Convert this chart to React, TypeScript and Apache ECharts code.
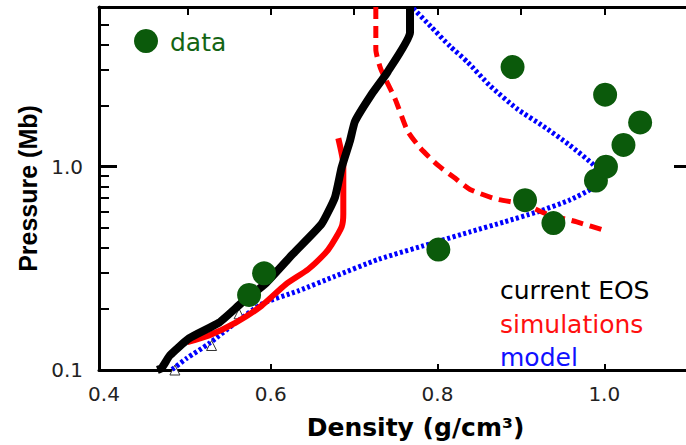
import React, { useEffect, useRef } from "react";
import * as echarts from "echarts";

// current EOS (black solid)
const eosX = [0.464, 0.469, 0.479, 0.502, 0.538, 0.565, 0.594, 0.627, 0.661, 0.677, 0.685, 0.695, 0.701, 0.720, 0.740, 0.767, 0.767];
const eosY = [0.1, 0.102, 0.118, 0.143, 0.171, 0.214, 0.267, 0.374, 0.523, 0.707, 0.99, 1.34, 1.67, 2.24, 2.92, 4.57, 6.1];

// simulations (red solid part)
const simSolidX = [0.500, 0.526, 0.558, 0.589, 0.618, 0.645, 0.665, 0.673, 0.685, 0.687, 0.687, 0.681];
const simSolidY = [0.137, 0.148, 0.171, 0.207, 0.264, 0.313, 0.374, 0.414, 0.506, 0.585, 1.02, 1.38];

// simulations (red dashed part)
const simDashX = [0.726, 0.726, 0.732, 0.749, 0.764, 0.779, 0.800, 0.820, 0.839, 0.871, 0.904, 0.931, 0.967, 1.002];
const simDashY = [6.1, 3.78, 3.02, 2.16, 1.50, 1.24, 1.02, 0.884, 0.773, 0.692, 0.654, 0.585, 0.535, 0.483];

// model (blue dotted)
const modelX = [0.771, 0.792, 0.815, 0.836, 0.863, 0.895, 0.927, 0.958, 0.987, 0.995, 0.987, 0.958, 0.919, 0.880, 0.839, 0.800, 0.729, 0.677, 0.633, 0.589, 0.558, 0.526, 0.499, 0.481];
const modelY = [6.0, 4.89, 3.91, 3.27, 2.50, 1.93, 1.58, 1.28, 1.02, 0.904, 0.791, 0.684, 0.598, 0.535, 0.478, 0.428, 0.350, 0.289, 0.245, 0.211, 0.171, 0.135, 0.114, 0.1];

// data (green points)
const dataX = [0.574, 0.592, 0.801, 0.905, 0.939, 0.990, 1.002, 1.023, 1.043, 1.001, 0.890];
const dataY = [0.234, 0.299, 0.391, 0.684, 0.528, 0.855, 1.0, 1.28, 1.65, 2.26, 3.09];

// small open triangles
const triX = [0.485, 0.529, 0.562];
const triY = [0.1, 0.132, 0.189];

// axis ticks / labels
const xLabels = [0.4, 0.6, 0.8, 1.0];
const xBottomTicks = [0.6, 0.8, 1.0];
const xTopTicks = [0.5, 0.6, 0.7, 0.8, 0.9, 1.0];
const yLabels = [0.1, 1];
const yMinorTicks = [0.2, 0.3, 0.4, 0.5, 0.6, 0.7, 0.8, 0.9, 2, 3, 4, 5];
const yMajorTicks = [1];

const legendItems = ["current EOS", "simulations", "model"];

const zip = (xs: number[], ys: number[]) => xs.map((x, i) => [x, ys[i]]);

const X_MIN = 0.394;
const X_MAX = 1.098;
const Y_MIN = 0.1;
const Y_MAX = 6.1;

const GREEN = "#0b5a0b";
const RED = "#ff0000";
const BLUE = "#0000ff";

export default function App() {
  const ref = useRef<HTMLDivElement>(null);
  useEffect(() => {
    const chart = echarts.init(ref.current!, null, { renderer: "svg" });
    const labelStyle = { fontFamily: "DejaVu Sans", fontSize: 20, color: "#222" };
    chart.setOption({
      animation: false,
      backgroundColor: "#fff",
      grid: { left: 99, top: 7, width: 591, height: 368 },
      xAxis: [
        {
          type: "value", position: "bottom", min: X_MIN, max: X_MAX,
          axisLine: { lineStyle: { color: "#000", width: 3 } },
          splitLine: { show: false },
          axisTick: { inside: true, length: 6, customValues: xBottomTicks, lineStyle: { color: "#000", width: 2 } },
          axisLabel: { ...labelStyle, customValues: xLabels, margin: 14, formatter: (v: number) => v.toFixed(1) },
          name: "Density (g/cm³)", nameLocation: "middle", nameGap: 45,
          nameTextStyle: { fontFamily: "DejaVu Sans", fontWeight: "bold", fontSize: 25, color: "#000", padding: [0, 0, 0, 46] },
        },
        {
          type: "value", position: "top", min: X_MIN, max: X_MAX,
          axisLine: { lineStyle: { color: "#000", width: 3 } },
          splitLine: { show: false },
          axisTick: { inside: true, length: 8, customValues: xTopTicks, lineStyle: { color: "#000", width: 2 } },
          axisLabel: { show: false },
        },
      ],
      yAxis: [
        {
          type: "log", logBase: 10, position: "left", min: Y_MIN, max: Y_MAX,
          axisLine: { lineStyle: { color: "#000", width: 3 } },
          splitLine: { show: false },
          minorTick: { show: false },
          axisTick: { inside: true, length: 10, customValues: yMinorTicks, lineStyle: { color: "#000", width: 2 } },
          axisLabel: { ...labelStyle, customValues: yLabels, margin: 16, formatter: (v: number) => v.toFixed(1) },
          name: "Pressure (Mb)", nameLocation: "middle", nameGap: 40, nameRotate: 90,
          nameTextStyle: { fontFamily: "Liberation Sans", fontWeight: "bold", fontSize: 25, color: "#000" },
        },
        {
          type: "log", logBase: 10, position: "left", min: Y_MIN, max: Y_MAX,
          axisLine: { show: false },
          splitLine: { show: false },
          axisTick: { inside: true, length: 18, customValues: yMajorTicks, lineStyle: { color: "#000", width: 3 } },
          axisLabel: { show: false },
        },
        {
          type: "log", logBase: 10, position: "right", min: Y_MIN, max: Y_MAX,
          axisLine: { show: false },
          splitLine: { show: false },
          axisTick: { inside: true, length: 12, customValues: yMajorTicks, lineStyle: { color: "#000", width: 3 } },
          axisLabel: { show: false },
        },
      ],
      series: [
        {
          name: "triangles", type: "scatter", data: zip(triX, triY), symbol: "triangle", symbolSize: 10,
          itemStyle: { color: "#fff", borderColor: "#333", borderWidth: 1, opacity: 1 }, z: 1,
        },
        {
          name: "model", type: "line", data: zip(modelX, modelY), symbol: "none", smooth: 0.2,
          lineStyle: { color: BLUE, width: 5, type: [3, 2.5], cap: "butt", opacity: 1 }, z: 2,
        },
        {
          name: "simulations", type: "line", data: zip(simSolidX, simSolidY), symbol: "none", smooth: 0.2,
          lineStyle: { color: RED, width: 6 }, z: 3,
        },
        {
          name: "simulations", type: "line", data: zip(simDashX, simDashY), symbol: "none", smooth: 0.2,
          lineStyle: { color: RED, width: 5, type: [12, 7], cap: "butt" }, z: 3,
        },
        {
          name: "current EOS", type: "line", data: zip(eosX, eosY), symbol: "none", smooth: 0.15,
          lineStyle: { color: "#000", width: 8, join: "round" }, z: 4,
        },
        {
          name: "data", type: "scatter", data: zip(dataX, dataY), symbol: "circle", symbolSize: 24,
          itemStyle: { color: GREEN, opacity: 1 }, z: 5,
        },
      ],
      graphic: [
        { type: "circle", shape: { cx: 146, cy: 41, r: 12 }, style: { fill: GREEN }, z: 10 },
        { type: "text", x: 170, y: 42, style: { text: "data", fontFamily: "DejaVu Sans", fontSize: 25, fill: "#146414", verticalAlign: "middle" }, z: 10 },
        { type: "text", x: 500, y: 290, style: { text: legendItems[0], fontFamily: "DejaVu Sans", fontSize: 25, fill: "#000", verticalAlign: "middle" }, z: 10 },
        { type: "text", x: 500, y: 324, style: { text: legendItems[1], fontFamily: "DejaVu Sans", fontSize: 25, fill: "#ff1010", verticalAlign: "middle" }, z: 10 },
        { type: "text", x: 500, y: 357, style: { text: legendItems[2], fontFamily: "DejaVu Sans", fontSize: 25, fill: "#1010ff", verticalAlign: "middle" }, z: 10 },
      ],
    });
    return () => chart.dispose();
  }, []);
  return <div ref={ref} style={{ position: "absolute", left: 0, top: 0, width: 686, height: 445, background: "#fff" }} />;
}
